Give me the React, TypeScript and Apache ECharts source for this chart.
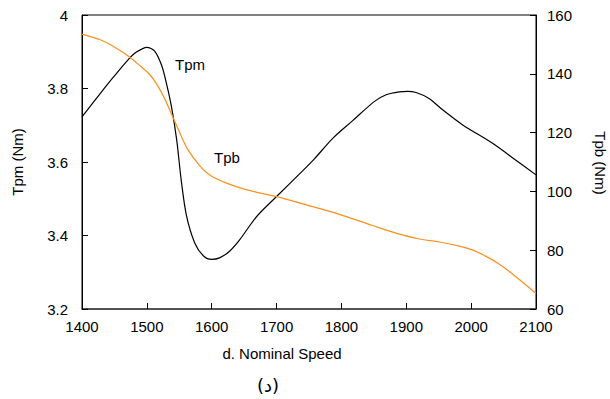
import React, { useEffect, useRef } from "react";
import * as echarts from "echarts";

const tpmSpeed = [1400, 1428, 1448, 1471, 1484, 1500, 1512, 1523, 1531, 1538, 1546, 1553, 1561, 1574, 1587, 1600, 1612, 1628, 1643, 1669, 1700, 1735, 1758, 1787, 1817, 1851, 1869, 1889, 1902, 1915, 1935, 1956, 1987, 2033, 2069, 2100];
const tpmValues = [3.723, 3.786, 3.83, 3.878, 3.899, 3.912, 3.902, 3.862, 3.808, 3.75, 3.66, 3.55, 3.455, 3.379, 3.345, 3.335, 3.339, 3.358, 3.388, 3.451, 3.506, 3.567, 3.608, 3.665, 3.712, 3.765, 3.783, 3.791, 3.792, 3.789, 3.773, 3.742, 3.701, 3.651, 3.605, 3.565];
const tpbSpeed = [1400, 1428, 1448, 1469, 1487, 1505, 1517, 1528, 1538, 1551, 1563, 1582, 1597, 1623, 1653, 1700, 1746, 1797, 1848, 1884, 1920, 1951, 1982, 2002, 2023, 2043, 2069, 2100];
const tpbValues = [153.5, 151.6, 149.4, 146.4, 143.2, 139.6, 135.8, 131.3, 126.3, 119.8, 114.3, 108.6, 105.6, 102.8, 100.6, 98.2, 95.4, 92.2, 88.4, 85.8, 83.8, 82.8, 81.4, 80.1, 77.9, 75.3, 71.0, 65.3];

const xTitle = "d. Nominal Speed";
const caption = "(د)";
const leftTitle = "Tpm (Nm)";
const rightTitle = "Tpb (Nm)";

const FONT = "'Liberation Sans', Arial, sans-serif";

export default function App() {
  const ref = useRef<HTMLDivElement>(null);
  useEffect(() => {
    if (!ref.current) return;
    const chart = echarts.init(ref.current, undefined, { renderer: "svg" });
    const labelStyle = { color: "#000", fontSize: 15, fontFamily: FONT };
    chart.setOption({
      animation: false,
      backgroundColor: "#fff",
      grid: { left: 82, right: 74, top: 15, bottom: 90, show: true, borderColor: "#000", borderWidth: 1 },
      xAxis: {
        type: "value",
        min: 1400,
        max: 2100,
        interval: 100,
        axisLine: { show: true, lineStyle: { color: "#444", width: 1.5 } },
        axisTick: { show: true, inside: true, length: 6, lineStyle: { color: "#000" } },
        axisLabel: { ...labelStyle, margin: 10, formatter: (v: number) => String(v) },
        splitLine: { show: false },
      },
      yAxis: [
        {
          type: "value",
          min: 3.2,
          max: 4,
          interval: 0.2,
          position: "left",
          axisLine: { show: true, lineStyle: { color: "#000", width: 1 } },
          axisTick: { show: true, inside: true, length: 6, lineStyle: { color: "#000" } },
          axisLabel: { ...labelStyle, margin: 14 },
          splitLine: { show: false },
        },
        {
          type: "value",
          min: 60,
          max: 160,
          interval: 20,
          position: "right",
          axisLine: { show: true, lineStyle: { color: "#000", width: 1 } },
          axisTick: { show: true, inside: true, length: 6, lineStyle: { color: "#000" } },
          axisLabel: { ...labelStyle, margin: 11 },
          splitLine: { show: false },
        },
      ],
      series: [
        {
          name: "Tpm",
          type: "line",
          yAxisIndex: 0,
          data: tpmSpeed.map((s, i) => [s, tpmValues[i]]),
          smooth: 0.3,
          showSymbol: false,
          lineStyle: { color: "#000", width: 1.2 },
        },
        {
          name: "Tpb",
          type: "line",
          yAxisIndex: 1,
          data: tpbSpeed.map((s, i) => [s, tpbValues[i]]),
          smooth: 0.3,
          showSymbol: false,
          lineStyle: { color: "#f7901e", width: 1.2 },
        },
      ],
      graphic: [
        { type: "text", x: 17, y: 162, rotation: Math.PI / 2, style: { text: leftTitle, align: "center", verticalAlign: "middle", fontSize: 15, fontFamily: FONT, fill: "#000" } },
        { type: "text", x: 600, y: 163, rotation: -Math.PI / 2, style: { text: rightTitle, align: "center", verticalAlign: "middle", fontSize: 15, fontFamily: FONT, fill: "#000" } },
        { type: "text", x: 282, y: 353, style: { text: xTitle, align: "center", verticalAlign: "middle", fontSize: 15, fontFamily: FONT, fill: "#000" } },
        { type: "text", x: 268, y: 385, style: { text: caption, align: "center", verticalAlign: "middle", fontSize: 18, fontFamily: "'DejaVu Sans', sans-serif", fill: "#000" } },
        { type: "text", x: 190, y: 64, style: { text: "Tpm", align: "center", verticalAlign: "middle", fontSize: 15, fontFamily: FONT, fill: "#000" } },
        { type: "text", x: 227, y: 157, style: { text: "Tpb", align: "center", verticalAlign: "middle", fontSize: 15, fontFamily: FONT, fill: "#000" } },
      ],
    });
    return () => chart.dispose();
  }, []);
  return <div ref={ref} style={{ position: "fixed", left: 0, top: 0, width: 610, height: 399 }} />;
}
